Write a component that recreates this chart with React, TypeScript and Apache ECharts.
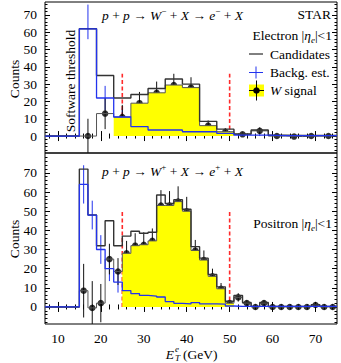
import { useEffect, useRef } from "react";
import * as echarts from "echarts";

// ---------------- data ----------------
const X_MIN = 7;
const X_MAX = 75;
const xMajorTicks = [10, 20, 30, 40, 50, 60, 70];
const xMinorTicks = [8, 12, 14, 16, 18, 22, 24, 26, 28, 32, 34, 36, 38, 42, 44, 46, 48, 52, 54, 56, 58, 62, 64, 66, 68, 72, 74];
const yMajorTicks = [0, 10, 20, 30, 40, 50, 60, 70];
const yMinorTicks = [-8, -6, -4, -2, 2, 4, 6, 8, 12, 14, 16, 18, 22, 24, 26, 28, 32, 34, 36, 38, 42, 44, 46, 48, 52, 54, 56, 58, 62, 64, 66, 68, 72, 74, 76, 78];

// Upper panel: W- -> e-, 4 GeV bins
const topRange = [-9.8, 77.5];
const topBinWidth = 4;
const topBinCenters = [17, 21, 25, 29, 33, 37, 41, 45, 49, 53, 57, 61, 65, 69, 73];
const topCandidates = [62, 35, 22, 24, 27.5, 33, 30, 8.5, 4, 1.2, 3.5, 0.5, 0.3, 0.3, 0.3];
const topBackground = [62, 22, 11, 5.5, 3.5, 3.5, 2.5, 2.5, 1.5, 0.5, 0.5, 0.3, 0.3, 0.3, 0.3];
const topBackgroundLow = [56, 15, 6, 4.3, 2.5, 2.5, 1.5, 1.5, 0.8, 0, 0, 0, 0, 0, 0];
const topBackgroundHigh = [76, 29, 16, 6.7, 4.5, 4.5, 3.5, 3.5, 2.2, 1, 1, 0.6, 0.6, 0.6, 0.6];
const topSignal = [0, 13, 11, 19, 25, 29.5, 28, 6, 2.5, 1, 3, 0, -0.3, 0, 0];
const topSignalErr = [10, 9, 7, 6.5, 6.5, 6.5, 6, 3, 2, 1, 2, 0.5, 0.5, 0.5, 0.5];
const topSignalWindow = [25, 49];
const topCutX = [25, 50];
const topCutTop = 36;

// Lower panel: W+ -> e+, 2 GeV bins
const botRange = [-8.9, 80.4];
const botBinWidth = 2;
const botBinCenters = [16, 18, 20, 22, 24, 26, 28, 30, 32, 34, 36, 38, 40, 42, 44, 46, 48, 50, 52, 54, 56, 58, 60, 62, 64, 66, 68, 70, 72, 74];
const botCandidates = [72, 48, 32, 45, 32, 37, 39.5, 38.5, 39, 58.5, 54, 56, 51, 31.5, 25.5, 17, 10.5, 3, 6, 2.3, 0.3, 2.3, 0.3, 0.3, 0.3, 0.3, 0.3, 1.2, 0.3, 0.3];
const botBackground = [64, 48, 30, 20, 13, 8.5, 7, 6, 5.7, 5.2, 2.8, 1.9, 1.6, 2.3, 1.6, 1.6, 1.5, 0.5, 0.3, 0.3, 0.3, 0.3, 0.3, 0.3, 0.3, 0.3, 0.3, 0.3, 0.3, 0.3];
const botBackgroundErr = [10, 7.5, 7.5, 6.5, 5.5, 1.5, 1.5, 1.2, 1.2, 1.2, 1, 1, 1, 1, 0.8, 0.8, 0.8, 0.5, 0.3, 0.3, 0.3, 0.3, 0.3, 0.3, 0.3, 0.3, 0.3, 0.3, 0.3, 0.3];
const botSignal = [8.5, -0.5, 2, 25, 18.5, 28, 32, 32.5, 34.5, 53, 53, 55, 50, 29.5, 24.5, 16, 9.5, 2, 5, 2, 0, 2, 0, 0, 0, 0, 0, 1, 0, 0];
const botSignalErr = [14, 14, 10, 8, 7, 6.5, 6.5, 6.5, 6.5, 8, 7.5, 8, 7.5, 5.5, 5, 4, 3, 1.5, 2.2, 1.4, 0.5, 1.4, 0.5, 0.5, 0.5, 0.5, 0.5, 1, 0.5, 0.5];
const botSignalWindow = [26, 50];
const botCutX = [25, 50];
const botCutTop = 50;

// ---------------- helpers ----------------
const FONT = "'Liberation Serif', 'Times New Roman', 'DejaVu Serif', serif";
const BLUE = "#2233ee";
const RED = "#ff2a2a";

function stepPath(centers: number[], width: number, values: number[], startX: number) {
  const pts: number[][] = [[startX, 0]];
  centers.forEach((c, i) => {
    const lo = c - width / 2;
    const hi = c + width / 2;
    if (i === 0) pts.push([lo, 0]);
    pts.push([lo, values[i]]);
    pts.push([hi, values[i]]);
  });
  return pts;
}

function windowPath(centers: number[], width: number, values: number[], win: number[]) {
  const idx = centers.map((_, i) => i).filter((i) => centers[i] >= win[0] && centers[i] <= win[1]);
  const pts: number[][] = [];
  idx.forEach((i, k) => {
    const lo = centers[i] - width / 2;
    const hi = centers[i] + width / 2;
    if (k === 0) pts.push([lo, 0]);
    pts.push([lo, values[i]]);
    pts.push([hi, values[i]]);
    if (k === idx.length - 1) pts.push([hi, 0]);
  });
  return pts;
}

function vBars(xi: number, yi: number, xs: number[], lo: number[], hi: number[], color: string, width: number, dash?: number[]) {
  return {
    type: "custom",
    xAxisIndex: xi,
    yAxisIndex: yi,
    clip: true,
    silent: true,
    data: xs.map((x, i) => [x, lo[i], hi[i]]),
    encode: { x: 0, y: [1, 2] },
    renderItem: (_params: any, api: any) => {
      const a = api.coord([api.value(0), api.value(1)]);
      const b = api.coord([api.value(0), api.value(2)]);
      return {
        type: "line",
        shape: { x1: a[0], y1: a[1], x2: b[0], y2: b[1] },
        style: { stroke: color, lineWidth: width, lineDash: dash || null, fill: null },
      };
    },
  };
}

function stepLine(xi: number, yi: number, pts: number[][], color: string, width: number) {
  return {
    type: "line",
    xAxisIndex: xi,
    yAxisIndex: yi,
    data: pts,
    symbol: "none",
    silent: true,
    lineStyle: { color, width },
  };
}

function panelSeries(
  xi: number,
  yi: number,
  centers: number[],
  width: number,
  cand: number[],
  bkg: number[],
  bkgLo: number[],
  bkgHi: number[],
  sig: number[],
  sigErr: number[],
  win: number[],
  cutX: number[],
  cutTop: number
) {
  return [
    {
      type: "line",
      xAxisIndex: xi,
      yAxisIndex: yi,
      data: windowPath(centers, width, sig, win),
      symbol: "none",
      silent: true,
      lineStyle: { width: 0 },
      areaStyle: { color: "#ffff00", opacity: 1 },
    },
    stepLine(xi, yi, stepPath(centers, width, sig, X_MIN), "#555", 1),
    stepLine(xi, yi, stepPath(centers, width, cand, X_MIN), "#333", 1.4),
    stepLine(xi, yi, stepPath(centers, width, bkg, X_MIN), BLUE, 1.3),
    vBars(xi, yi, centers, bkgLo, bkgHi, BLUE, 1),
    vBars(xi, yi, cutX, cutX.map(() => 0), cutX.map(() => cutTop), RED, 1.6, [4, 2.5]),
    vBars(
      xi,
      yi,
      centers,
      sig.map((v, i) => v - sigErr[i]),
      sig.map((v, i) => v + sigErr[i]),
      "#111",
      1
    ),
    {
      type: "scatter",
      xAxisIndex: xi,
      yAxisIndex: yi,
      data: centers.map((c, i) => [c, sig[i]]),
      symbol: "circle",
      symbolSize: 6.5,
      silent: true,
      itemStyle: { color: "#000" },
    },
  ];
}

function axisSet(kind: "x" | "y", gridIndex: number, min: number, max: number, showLabels: boolean) {
  const positions = kind === "x" ? ["bottom", "top"] : ["left", "right"];
  const out: any[] = [];
  positions.forEach((pos, pi) => {
    [
      { ticks: kind === "x" ? xMajorTicks : yMajorTicks, len: 5 },
      { ticks: kind === "x" ? xMinorTicks : yMinorTicks, len: 2.5 },
    ].forEach((t, ti) => {
      out.push({
        type: "value",
        gridIndex,
        position: pos,
        min,
        max,
        splitLine: { show: false },
        axisLine: { show: false },
        axisTick: {
          show: true,
          inside: true,
          length: t.len,
          customValues: t.ticks.filter((v) => v > min && v < max),
          lineStyle: { color: "#000", width: 1 },
        },
        axisLabel: {
          show: showLabels && pi === 0 && ti === 0,
          customValues: kind === "x" ? xMajorTicks : yMajorTicks,
          fontFamily: FONT,
          fontSize: 13.5,
          color: "#000",
          margin: kind === "x" ? 7 : 8,
        },
      });
    });
  });
  return out;
}

function txt(x: number, y: number, text: string, extra: any = {}) {
  return {
    type: "text",
    x,
    y,
    silent: true,
    style: {
      text,
      fill: "#000",
      fontFamily: FONT,
      fontSize: 13.5,
      align: "left",
      verticalAlign: "middle",
      textAlign: "left",
      textVerticalAlign: "middle",
      ...extra,
      rich: {
        i: { fontStyle: "italic", fontFamily: FONT, fontSize: 13.5, lineHeight: 18 },
        n: { fontFamily: FONT, fontSize: 13.5, lineHeight: 18 },
        sup: { fontFamily: FONT, fontSize: 9, lineHeight: 9, verticalAlign: "top" },
        sub: { fontStyle: "italic", fontFamily: FONT, fontSize: 9, lineHeight: 9, verticalAlign: "bottom" },
      },
    },
  };
}

export default function App() {
  const ref = useRef<HTMLDivElement>(null);
  useEffect(() => {
    if (!ref.current) return;
    const chart = echarts.init(ref.current, null, { renderer: "svg" });
    const option: any = {
      animation: false,
      backgroundColor: "#fff",
      grid: [
        { left: 45, right: 4, top: 2, height: 151, show: true, borderColor: "#000", borderWidth: 1 },
        { left: 45, right: 4, top: 153, height: 171, show: true, borderColor: "#000", borderWidth: 1 },
      ],
      xAxis: [
        ...axisSet("x", 0, X_MIN, X_MAX, false),
        ...axisSet("x", 1, X_MIN, X_MAX, true),
      ],
      yAxis: [
        ...axisSet("y", 0, topRange[0], topRange[1], true),
        ...axisSet("y", 1, botRange[0], botRange[1], true),
      ],
      series: [
        ...panelSeries(0, 0, topBinCenters, topBinWidth, topCandidates, topBackground, topBackgroundLow, topBackgroundHigh, topSignal, topSignalErr, topSignalWindow, topCutX, topCutTop),
        ...panelSeries(
          4,
          4,
          botBinCenters,
          botBinWidth,
          botCandidates,
          botBackground,
          botBackground.map((v, i) => v - botBackgroundErr[i]),
          botBackground.map((v, i) => v + botBackgroundErr[i]),
          botSignal,
          botSignalErr,
          botSignalWindow,
          botCutX,
          botCutTop
        ),
      ],
      graphic: [
        txt(102, 15, "{i|p}{n| + }{i|p}{n| → }{i|W}{sup|−}{n| + }{i|X}{n| → }{i|e}{sup|−}{n| + }{i|X}"),
        txt(331, 14, "STAR", { align: "right", textAlign: "right" }),
        txt(332, 35, "{n|Electron |}{i|η}{sub|e}{n||<1}", { align: "right", textAlign: "right" }),
        txt(270, 54, "Candidates"),
        txt(270, 72.5, "Backg. est."),
        txt(270, 90, "{i|W}{n| signal}"),
        { type: "line", silent: true, shape: { x1: 249, y1: 54, x2: 263, y2: 54 }, style: { stroke: "#000", lineWidth: 1 } },
        { type: "line", silent: true, shape: { x1: 249, y1: 72.5, x2: 263, y2: 72.5 }, style: { stroke: BLUE, lineWidth: 1 } },
        { type: "line", silent: true, shape: { x1: 256, y1: 66.5, x2: 256, y2: 78.5 }, style: { stroke: BLUE, lineWidth: 1 } },
        { type: "rect", silent: true, shape: { x: 249, y: 84.5, width: 15, height: 12 }, style: { fill: "#ffff00" } },
        { type: "line", silent: true, shape: { x1: 249, y1: 90.5, x2: 264, y2: 90.5 }, style: { stroke: "#000", lineWidth: 1 } },
        { type: "line", silent: true, shape: { x1: 256.5, y1: 80.5, x2: 256.5, y2: 100.5 }, style: { stroke: "#000", lineWidth: 1 } },
        { type: "circle", silent: true, shape: { cx: 256.5, cy: 90.5, r: 3.3 }, style: { fill: "#000" } },
        txt(70, 81, "Software threshold", { align: "center", textAlign: "center" }),
        txt(102, 171.5, "{i|p}{n| + }{i|p}{n| → }{i|W}{sup|+}{n| + }{i|X}{n| → }{i|e}{sup|+}{n| + }{i|X}"),
        txt(332, 223, "{n|Positron |}{i|η}{sub|e}{n||<1}", { align: "right", textAlign: "right" }),
        txt(14, 79, "Counts", { align: "center", textAlign: "center" }),
        txt(14, 239, "Counts", { align: "center", textAlign: "center" }),
        txt(174, 354, "E", { fontStyle: "italic", align: "right", textAlign: "right" }),
        txt(175, 348.5, "e", { fontStyle: "italic", fontSize: 9 }),
        txt(175, 358, "T", { fontStyle: "italic", fontSize: 9 }),
        txt(183, 354, "(GeV)"),
      ].map((g: any) => g),
    };
    // rotate vertical texts
    const gs = option.graphic;
    gs[13].rotation = Math.PI / 2;
    gs[16].rotation = Math.PI / 2;
    gs[17].rotation = Math.PI / 2;
    chart.setOption(option);
    return () => chart.dispose();
  }, []);
  return <div ref={ref} style={{ position: "absolute", left: 0, top: 0, width: 341, height: 363 }} />;
}
